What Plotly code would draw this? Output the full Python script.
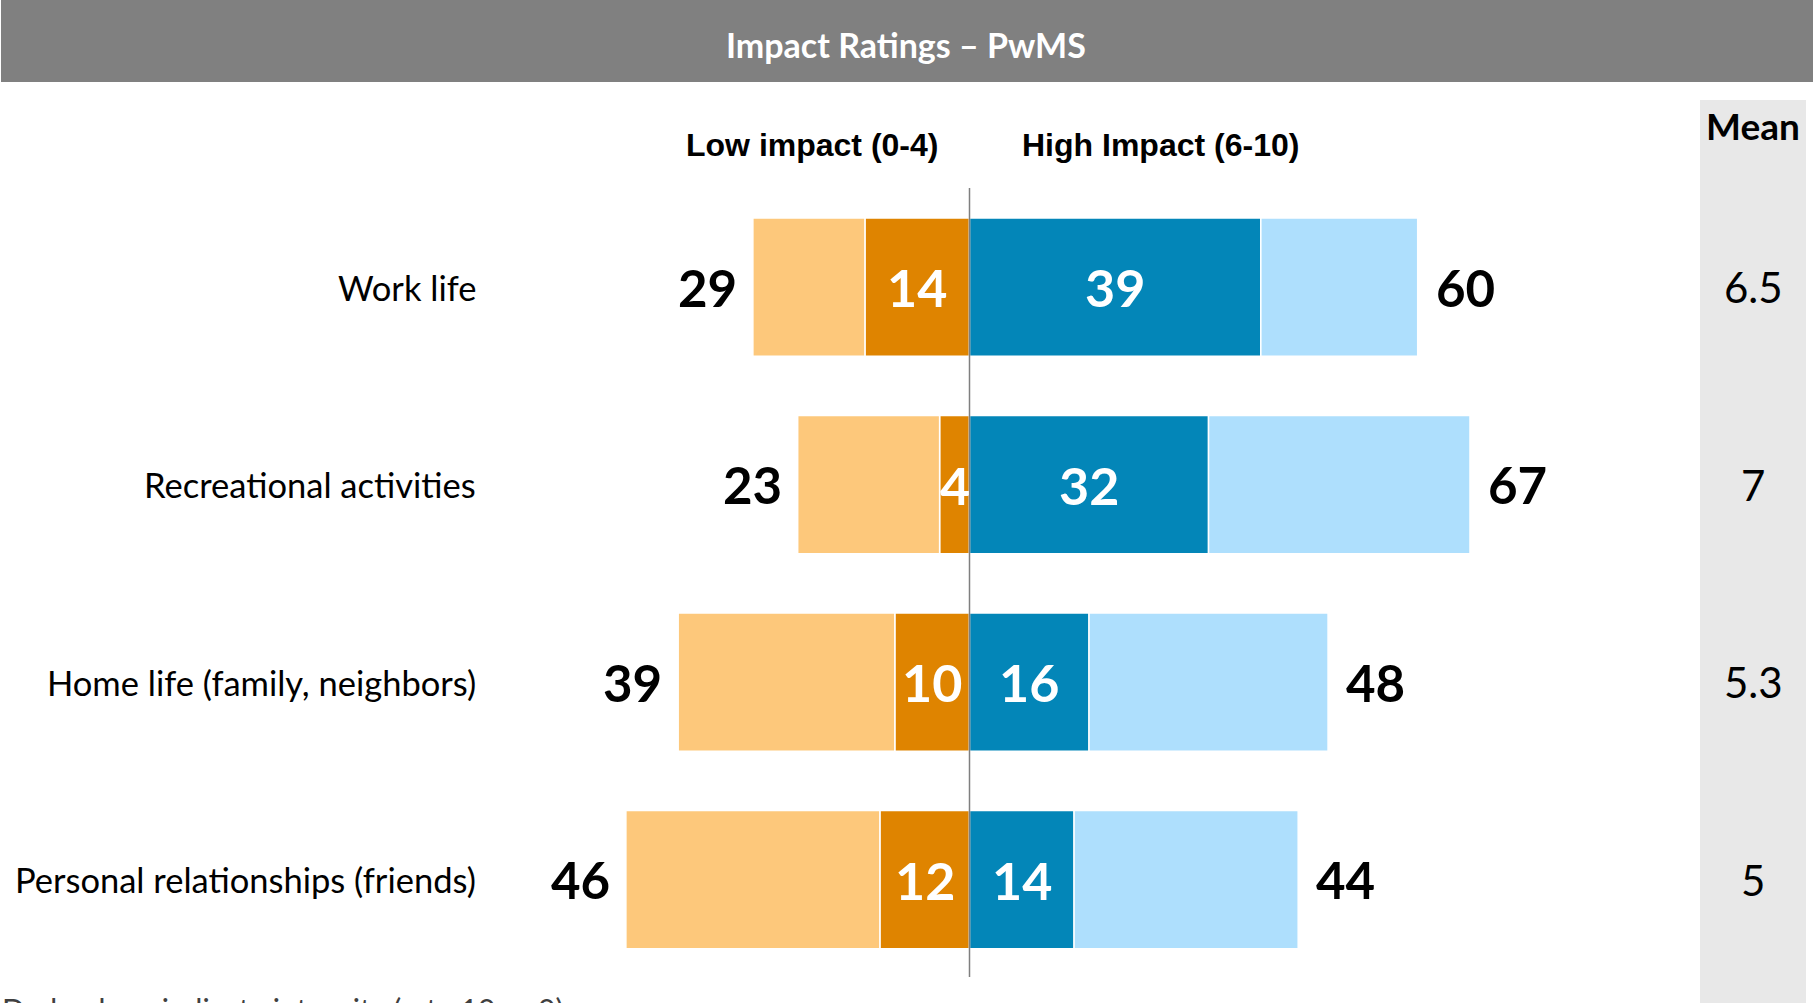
import plotly.graph_objects as go

categories = ["Work life", "Recreational activities", "Home life (family, neighbors)", "Personal relationships (friends)"]
low_total = [29, 23, 39, 46]
low_extreme = [14, 4, 10, 12]
high_extreme = [39, 32, 16, 14]
high_total = [60, 67, 48, 44]
means = ["6.5", "7", "5.3", "5"]

low_rest = [t - e for t, e in zip(low_total, low_extreme)]
high_rest = [t - e for t, e in zip(high_total, high_extreme)]

W, H = 1813, 1003
FONT = "Lato, 'Open Sans', sans-serif"
NARROW = "'Liberation Sans Narrow', 'Arial Narrow', 'Liberation Sans', sans-serif"

C_LO_DARK = "#DF8400"
C_LO_LIGHT = "#FDC87B"
C_HI_DARK = "#0386B8"
C_HI_LIGHT = "#AEDFFD"

fig = go.Figure()
line = dict(color="white", width=1.5)
fig.add_trace(go.Bar(y=categories, x=[-v for v in low_extreme], orientation="h",
                     marker=dict(color=C_LO_DARK, line=line), width=0.70, hoverinfo="skip"))
fig.add_trace(go.Bar(y=categories, x=[-v for v in low_rest], orientation="h",
                     marker=dict(color=C_LO_LIGHT, line=line), width=0.70, hoverinfo="skip"))
fig.add_trace(go.Bar(y=categories, x=high_extreme, orientation="h",
                     marker=dict(color=C_HI_DARK, line=line), width=0.70, hoverinfo="skip"))
fig.add_trace(go.Bar(y=categories, x=high_rest, orientation="h",
                     marker=dict(color=C_HI_LIGHT, line=line), width=0.70, hoverinfo="skip"))

px_per_unit = 7.47
center_px = 969.5
x_range = [-center_px / px_per_unit, (W - center_px) / px_per_unit]
row0 = 287.0
row_step = 197.5
y_top = -row0 / row_step
y_bot = (H - row0) / row_step

ann = []
# category labels
for c in categories:
    ann.append(dict(x=478 / W, xref="paper", y=c, yref="y", text=c, showarrow=False,
                    xanchor="right", yanchor="middle", font=dict(family=FONT, size=34.5, color="black")))
# totals
for c, lt, ht in zip(categories, low_total, high_total):
    ann.append(dict(x=-lt, y=c, text=f"<b>{lt}</b>", showarrow=False, xanchor="right", xshift=-14,
                    font=dict(family=FONT, size=51, color="black")))
    ann.append(dict(x=ht, y=c, text=f"<b>{ht}</b>", showarrow=False, xanchor="left", xshift=16,
                    font=dict(family=FONT, size=51, color="black")))
# inner labels
for c, le, he in zip(categories, low_extreme, high_extreme):
    ann.append(dict(x=-le / 2, y=c, text=f"<b>{le}</b>", showarrow=False, xanchor="center",
                    font=dict(family=FONT, size=52, color="white")))
    ann.append(dict(x=he / 2, y=c, text=f"<b>{he}</b>", showarrow=False, xanchor="center",
                    font=dict(family=FONT, size=52, color="white")))
# means
for c, m in zip(categories, means):
    ann.append(dict(x=1753 / W, xref="paper", y=c, text=m, showarrow=False, xanchor="center",
                    font=dict(family=FONT, size=42, color="black")))
ann.append(dict(x=1753 / W, xref="paper", y=1 - 126 / H, yref="paper", text="<b>Mean</b>",
                showarrow=False, xanchor="center", yanchor="middle",
                font=dict(family=FONT, size=37, color="black")))
# headers
ann.append(dict(x=812 / W, xref="paper", y=1 - 145 / H, yref="paper", text="<b>Low impact (0-4)</b>",
                showarrow=False, xanchor="center", yanchor="middle",
                font=dict(family=NARROW, size=32, color="black")))
ann.append(dict(x=1160 / W, xref="paper", y=1 - 145 / H, yref="paper", text="<b>High Impact (6-10)</b>",
                showarrow=False, xanchor="center", yanchor="middle",
                font=dict(family=NARROW, size=32, color="black")))
# title
ann.append(dict(x=906 / W, xref="paper", y=1 - 44 / H, yref="paper", text="<b>Impact Ratings – PwMS</b>",
                showarrow=False, xanchor="center", yanchor="middle",
                font=dict(family=FONT, size=34, color="white")))
# footnote (cut off at bottom, as in the source)
ann.append(dict(x=0, xref="paper", y=1 - 989 / H, yref="paper",
                text="Darker bars indicate intensity (rate 10 or 0)",
                showarrow=False, xanchor="left", yanchor="top",
                font=dict(family=FONT, size=30, color="#404040")))

shapes = [
    dict(type="rect", xref="paper", yref="paper", x0=1 / W, x1=1, y0=1 - 82 / H, y1=1,
         fillcolor="#808080", line=dict(width=0), layer="below"),
    dict(type="rect", xref="paper", yref="paper", x0=1700 / W, x1=1806 / W, y0=0, y1=1 - 100 / H,
         fillcolor="#E8E8E8", line=dict(width=0), layer="below"),
    dict(type="line", xref="x", yref="paper", x0=0, x1=0, y0=1 - 977 / H, y1=1 - 188 / H,
         line=dict(color="#7F7F7F", width=1.5), layer="above"),
]

fig.update_layout(
    width=W, height=H,
    margin=dict(l=0, r=0, t=0, b=0),
    paper_bgcolor="white", plot_bgcolor="rgba(0,0,0,0)",
    barmode="relative", bargap=0.3,
    showlegend=False,
    xaxis=dict(range=x_range, domain=[0, 1], showgrid=False, zeroline=False,
               showticklabels=False, fixedrange=True),
    yaxis=dict(range=[y_bot, y_top], domain=[0, 1], showgrid=False, zeroline=False,
               showticklabels=False, categoryorder="array", categoryarray=categories,
               fixedrange=True),
    annotations=ann,
    shapes=shapes,
)

fig.write_html("out.html", config={"displayModeBar": False},
               post_script="document.body.style.margin='0';document.body.style.overflow='hidden';")
